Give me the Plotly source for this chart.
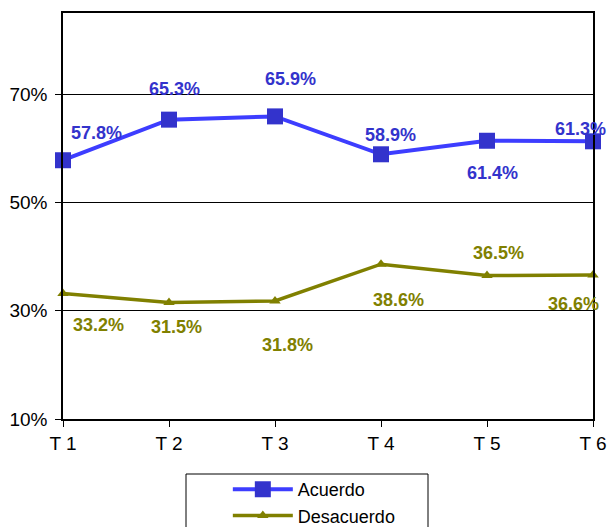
import plotly.graph_objects as go

categories = ["T 1", "T 2", "T 3", "T 4", "T 5", "T 6"]
acuerdo = [57.8, 65.3, 65.9, 58.9, 61.4, 61.3]
desacuerdo = [33.2, 31.5, 31.8, 38.6, 36.5, 36.6]
acuerdo_labels = ["57.8%", "65.3%", "65.9%", "58.9%", "61.4%", "61.3%"]
desacuerdo_labels = ["33.2%", "31.5%", "31.8%", "38.6%", "36.5%", "36.6%"]
y_ticks = [10, 30, 50, 70]
y_tick_labels = ["10%", "30%", "50%", "70%"]

# label offsets (pixels) for data labels
acu_off = [(33, -27), (5, -31), (15, -37), (9, -19), (5, 32), (-13, -12)]
des_off = [(35, 32), (7, 24), (12, 44), (17, 36), (11, -23), (-20, 29)]

BLUE_LINE = "#3d3dff"
BLUE = "#3333CC"
OLIVE = "#808000"
FONT = "Liberation Sans, Arial, sans-serif"

fig = go.Figure()
fig.add_trace(go.Scatter(
    x=categories, y=acuerdo, name="Acuerdo", mode="lines+markers",
    line=dict(color=BLUE_LINE, width=4),
    marker=dict(symbol="square", size=16, color=BLUE),
    cliponaxis=False,
))
fig.add_trace(go.Scatter(
    x=categories, y=desacuerdo, name="Desacuerdo", mode="lines+markers",
    line=dict(color=OLIVE, width=3.5),
    marker=dict(symbol="triangle-up", size=10, color=OLIVE),
    cliponaxis=False,
))

annotations = []
for cat, v, lab, (dx, dy) in zip(categories, acuerdo, acuerdo_labels, acu_off):
    annotations.append(dict(x=cat, y=v, text=lab, showarrow=False, xshift=dx, yshift=-dy,
                            font=dict(family=FONT, size=18, color=BLUE, weight="bold")))
for cat, v, lab, (dx, dy) in zip(categories, desacuerdo, desacuerdo_labels, des_off):
    annotations.append(dict(x=cat, y=v, text=lab, showarrow=False, xshift=dx, yshift=-dy,
                            font=dict(family=FONT, size=18, color=OLIVE, weight="bold")))

fig.update_layout(
    width=611, height=527,
    margin=dict(l=63, r=18, t=13, b=108, autoexpand=False),
    paper_bgcolor="white", plot_bgcolor="white",
    font=dict(family=FONT, size=19, color="black"),
    annotations=annotations,
    showlegend=True,
    legend=dict(x=0.311, xanchor="left", y=-0.128, yanchor="top",
                orientation="v", borderwidth=0, bgcolor="rgba(0,0,0,0)",
                font=dict(family=FONT, size=18, color="black"),
                itemwidth=60, tracegroupgap=0),
    shapes=[dict(type="rect", xref="paper", yref="paper",
                 x0=(186 - 63) / 530, x1=(428 - 63) / 530,
                 y0=-(535 - 419) / 406, y1=-(474 - 419) / 406,
                 line=dict(color="black", width=1), fillcolor="rgba(0,0,0,0)")],
)
fig.update_xaxes(type="category", range=[0, 5], showgrid=False,
                 showline=True, linecolor="black", linewidth=1.5, mirror=True,
                 ticks="outside", ticklen=6, tickcolor="black",
                 tickfont=dict(size=19), zeroline=False)
fig.update_yaxes(range=[10, 85], tickvals=y_ticks, ticktext=y_tick_labels,
                 showgrid=True, gridcolor="black", gridwidth=1,
                 showline=True, linecolor="black", linewidth=1.5, mirror=True,
                 ticks="outside", ticklen=6, tickcolor="black",
                 ticklabelstandoff=4,
                 tickfont=dict(size=19), zeroline=False)

fig.write_html("out.html", config={"displayModeBar": False},
               post_script="document.body.style.margin='0';document.body.style.overflow='hidden';")
